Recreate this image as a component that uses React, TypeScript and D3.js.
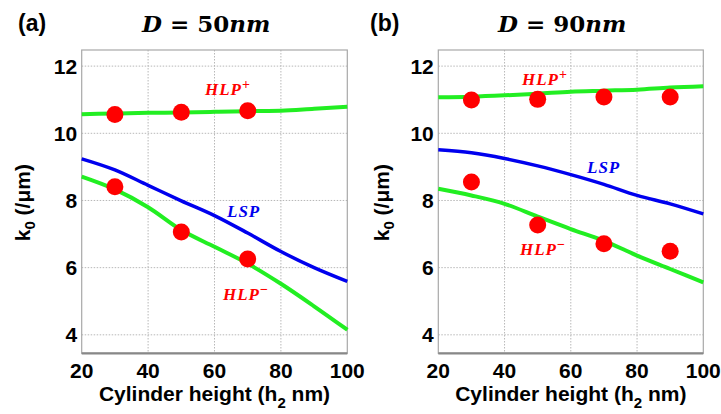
import React from "react";
import * as d3 from "d3";

// Cylinder heights (nm) at which the simulated curves are sampled
const heights = [20, 30, 40, 50, 60, 70, 80, 90, 100];
// Heights of the measured points
const heightsA = [30, 50, 70];
const heightsB = [30, 50, 70, 90];

// Panel (a): D = 50 nm
const hlpPlusA = [10.57, 10.59, 10.61, 10.62, 10.64, 10.66, 10.67, 10.73, 10.79];
const lspA = [9.24, 8.91, 8.45, 7.99, 7.55, 7.03, 6.48, 6.0, 5.59];
const hlpMinusA = [8.71, 8.33, 7.8, 7.12, 6.62, 6.12, 5.52, 4.85, 4.15];
const dotsUpperA = [10.56, 10.63, 10.67];
const dotsLowerA = [8.41, 7.06, 6.26];

// Panel (b): D = 90 nm
const hlpPlusB = [11.07, 11.09, 11.13, 11.18, 11.24, 11.27, 11.3, 11.36, 11.4];
const lspB = [9.51, 9.42, 9.25, 9.03, 8.77, 8.48, 8.15, 7.9, 7.6];
const hlpMinusB = [8.35, 8.15, 7.9, 7.52, 7.15, 6.8, 6.36, 5.96, 5.56];
const dotsUpperB = [10.99, 11.01, 11.08, 11.08];
const dotsLowerB = [8.55, 7.27, 6.71, 6.49];

const xTicks = [20, 40, 60, 80, 100];
const yTicks = [4, 6, 8, 10, 12];

const GREEN = "#22ee22";
const BLUE = "#0000ee";
const RED = "#ff0000";
const SANS = "'Liberation Sans', Arial, sans-serif";
const SERIF = "'Liberation Serif', 'Times New Roman', serif";
const TITLE_SERIF = "'DejaVu Serif', serif";

type Label = { text: string; sup: string; color: string; x: number; y: number };

type PanelProps = {
  left: number;
  right: number;
  tag: string;
  tagX: number;
  diameter: string;
  titleX: number;
  yTitleX: number;
  plus: number[];
  lsp: number[];
  minus: number[];
  dotX: number[];
  dotsUp: number[];
  dotsLow: number[];
  labels: Label[];
};

const TOP = 50;
const BOTTOM = 353.3;

function Panel(p: PanelProps) {
  const x = d3.scaleLinear().domain([20, 100]).range([p.left, p.right]);
  const y = d3.scaleLinear().domain([3.45, 12.48]).range([BOTTOM, TOP]);
  const line = d3
    .line<number>()
    .x((_, i) => x(heights[i]))
    .y((v) => y(v))
    .curve(d3.curveMonotoneX);

  return (
    <g>
      {/* panel tag and title */}
      <text x={p.tagX} y={31} fontFamily={SANS} fontWeight="bold" fontSize={23}>
        {p.tag}
      </text>
      <text x={p.titleX} y={32} fontFamily={TITLE_SERIF} fontWeight="bold" fontSize={23}>
        <tspan fontStyle="italic">D</tspan>
        <tspan> = {p.diameter}</tspan>
        <tspan fontStyle="italic">nm</tspan>
      </text>

      {/* grid */}
      {xTicks
        .filter((t) => t !== 20 && t !== 100)
        .map((t) => (
          <line
            key={"gx" + t}
            x1={x(t)}
            x2={x(t)}
            y1={TOP}
            y2={BOTTOM}
            stroke="#b8b8b8"
            strokeWidth={1}
            strokeDasharray="1.5,1.5"
          />
        ))}
      {yTicks.map((t) => (
        <line
          key={"gy" + t}
          x1={p.left}
          x2={p.right}
          y1={y(t)}
          y2={y(t)}
          stroke="#b8b8b8"
          strokeWidth={1}
          strokeDasharray="1.5,1.5"
        />
      ))}

      {/* frame */}
      <rect
        x={p.left}
        y={TOP}
        width={p.right - p.left}
        height={BOTTOM - TOP}
        fill="none"
        stroke="#a8a8a8"
        strokeWidth={1.2}
      />
      <line x1={p.left} x2={p.right} y1={BOTTOM} y2={BOTTOM} stroke="#888" strokeWidth={2.2} />

      {/* curves */}
      <path d={line(p.plus) ?? ""} fill="none" stroke={GREEN} strokeWidth={4} />
      <path d={line(p.minus) ?? ""} fill="none" stroke={GREEN} strokeWidth={4} />
      <path d={line(p.lsp) ?? ""} fill="none" stroke={BLUE} strokeWidth={3.5} />

      {/* measured points */}
      {p.dotsUp.map((v, i) => (
        <circle key={"u" + i} cx={x(p.dotX[i])} cy={y(v)} r={8.5} fill={RED} />
      ))}
      {p.dotsLow.map((v, i) => (
        <circle key={"l" + i} cx={x(p.dotX[i])} cy={y(v)} r={8.5} fill={RED} />
      ))}

      {/* curve labels */}
      {p.labels.map((l, i) => (
        <text
          key={"lab" + i}
          x={l.x}
          y={l.y}
          fontFamily={SERIF}
          fontWeight="bold"
          fontStyle="italic"
          fontSize={17}
          letterSpacing={1}
          fill={l.color}
        >
          {l.text}
          {l.sup && (
            <tspan dy={-6} fontSize={14} fontStyle="normal">
              {l.sup}
            </tspan>
          )}
        </text>
      ))}

      {/* tick labels */}
      {yTicks.map((t) => (
        <text
          key={"yt" + t}
          x={p.left - 4.5}
          y={y(t) + 7.5}
          textAnchor="end"
          fontFamily={SANS}
          fontWeight="bold"
          fontSize={21}
        >
          {t}
        </text>
      ))}
      {xTicks.map((t) => (
        <text
          key={"xt" + t}
          x={x(t)}
          y={378}
          textAnchor="middle"
          fontFamily={SANS}
          fontWeight="bold"
          fontSize={21}
        >
          {t}
        </text>
      ))}

      {/* axis titles */}
      <text
        x={(p.left + p.right) / 2}
        y={401}
        textAnchor="middle"
        fontFamily={SANS}
        fontWeight="bold"
        fontSize={21}
      >
        Cylinder height (h
        <tspan dy={7} fontSize={15}>
          2
        </tspan>
        <tspan dy={-7}> nm)</tspan>
      </text>
      <text
        transform={`translate(${p.yTitleX},${(TOP + BOTTOM) / 2 + 1}) rotate(-90)`}
        textAnchor="middle"
        fontFamily={SANS}
        fontWeight="bold"
        fontSize={21}
      >
        k
        <tspan dy={5} fontSize={15}>
          0
        </tspan>
        <tspan dy={-5}> (/μm)</tspan>
      </text>
    </g>
  );
}

export default function App() {
  return (
    <svg
      width={721}
      height={414}
      viewBox="0 0 721 414"
      style={{ position: "absolute", left: 0, top: 0, background: "#fff" }}
    >
      <rect x={0} y={0} width={721} height={414} fill="#fff" />
      <Panel
        left={81.7}
        right={347.3}
        tag="(a)"
        tagX={18}
        diameter="50"
        titleX={142}
        yTitleX={30}
        plus={hlpPlusA}
        lsp={lspA}
        minus={hlpMinusA}
        dotX={heightsA}
        dotsUp={dotsUpperA}
        dotsLow={dotsLowerA}
        labels={[
          { text: "HLP", sup: "+", color: RED, x: 205, y: 95 },
          { text: "LSP", sup: "", color: BLUE, x: 227, y: 217 },
          { text: "HLP", sup: "−", color: RED, x: 223, y: 300 },
        ]}
      />
      <Panel
        left={438.3}
        right={703.3}
        tag="(b)"
        tagX={370}
        diameter="90"
        titleX={498}
        yTitleX={389}
        plus={hlpPlusB}
        lsp={lspB}
        minus={hlpMinusB}
        dotX={heightsB}
        dotsUp={dotsUpperB}
        dotsLow={dotsLowerB}
        labels={[
          { text: "HLP", sup: "+", color: RED, x: 522, y: 85 },
          { text: "LSP", sup: "", color: BLUE, x: 587, y: 173 },
          { text: "HLP", sup: "−", color: RED, x: 520, y: 255 },
        ]}
      />
    </svg>
  );
}
